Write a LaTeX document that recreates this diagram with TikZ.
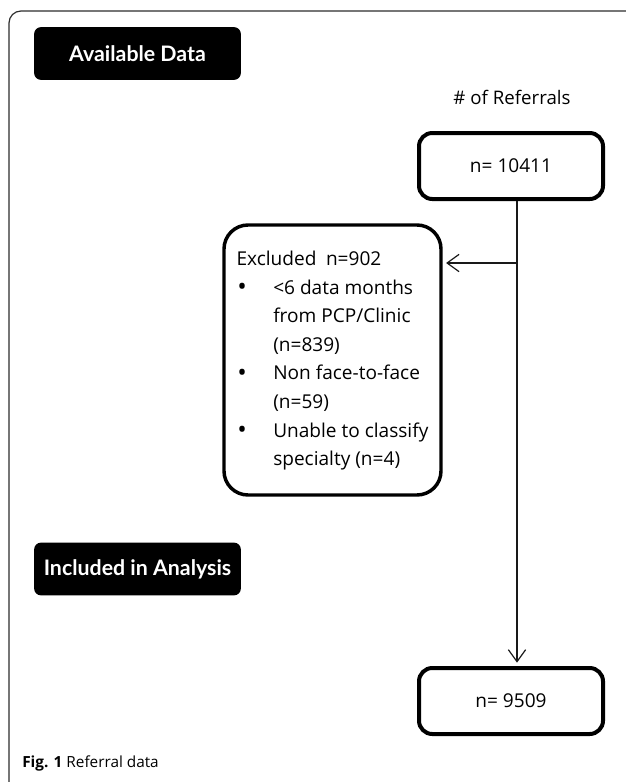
\documentclass[tikz,border=0pt]{standalone}
\usepackage{fontspec}
\setmainfont{Open Sans}
\newfontfamily\headfont{Lato}
\usetikzlibrary{arrows.meta}
\definecolor{framegray}{RGB}{45,45,45}
\definecolor{linkgray}{RGB}{25,25,25}
\tikzset{
  headbox/.style={fill=black,rounded corners=5pt,minimum width=155pt,minimum height=39.5pt,
    text=white,font=\headfont\fontsize{16}{18}\selectfont\bfseries},
  countbox/.style={draw=black,line width=3pt,rounded corners=10pt,minimum width=138pt,
    minimum height=49.5pt,font=\fontsize{14.3}{16}\selectfont},
  exclbox/.style={draw=black,line width=2.6pt,rounded corners=18pt,minimum width=162.75pt,
    minimum height=202.5pt,inner sep=0pt,font=\fontsize{14.3}{21.4}\selectfont},
  link/.style={draw=linkgray,line width=0.9pt,-{Straight Barb[length=9pt,width=13pt]}},
}
\newcommand{\bulletrow}[1]{\makebox[27.5pt][l]{\hspace{0.5pt}\raisebox{-1.2pt}{\fontsize{19}{19}\selectfont\textbullet}}#1}
\newcommand{\controw}[1]{\makebox[27.5pt]{}#1}

\begin{document}
\begin{tikzpicture}[x=0.75pt,y=-0.75pt]
  \useasboundingbox (0,0) rectangle (625,782);
  \draw[framegray,line width=0.9pt,rounded corners=9pt] (9,11) rectangle (680,830);
  \node[headbox] (avail) at (137.5,53.5) {Available Data};
  \node[headbox] (incl) at (137.5,569) {Included in Analysis};
  \node[font=\fontsize{14}{16}\selectfont] (reflabel) at (512,97) {\# of Referrals};
  \node[countbox] (top) at (511,166) {n= 10411};
  \node[countbox] (bottom) at (511,701) {n= 9509};
  \node[exclbox] (excl) at (332.5,360) {%
    \begin{tabular}{@{}l@{}}
      Excluded\enspace n=902\\
      \bulletrow{<6 data months}\\
      \controw{from PCP/Clinic}\\
      \controw{(n=839)}\\
      \bulletrow{Non face-to-face}\\
      \controw{(n=59)}\\
      \bulletrow{Unable to classify}\\
      \controw{specialty (n=4)}
    \end{tabular}};
  % split point of the trunk, level with the exclusion arrow
  \coordinate (split) at (517,263);
  \draw[link,shorten >=2.5pt] (top.south -| split) -- (bottom.north -| split);
  \draw[link,shorten >=2.5pt] (split) -- (split -| excl.east);
  \node[anchor=base west,inner sep=0pt,font=\fontsize{11.5}{14}\selectfont] (caption) at (22,767)
    {\textbf{Fig. 1} Referral data};
\end{tikzpicture}
\end{document}
